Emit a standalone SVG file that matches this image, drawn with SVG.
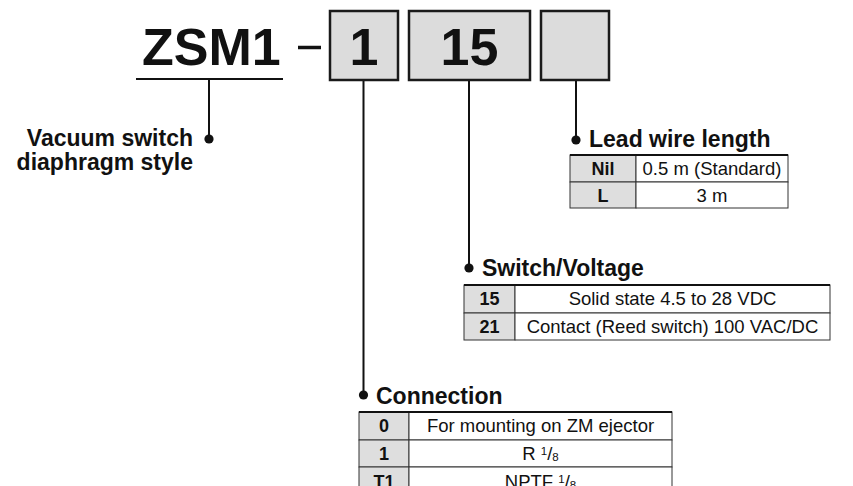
<svg xmlns="http://www.w3.org/2000/svg" width="853" height="486" viewBox="0 0 853 486">
<style>
text{font-family:"Liberation Sans",Arial,Helvetica,sans-serif;fill:#111}
.big{font-size:52px;font-weight:bold}
.lbl{font-size:23px;font-weight:bold}
.hd{font-size:18px;font-weight:bold;text-anchor:middle}
.cell{font-size:18.5px;text-anchor:middle}
.box{fill:#dcdcdc;stroke:#1a1a1a;stroke-width:2.5}
.ln{stroke:#111;stroke-width:2;fill:none}
.dot{fill:#111}
.hcell{fill:#dedede;stroke:#333;stroke-width:1}
.dcell{fill:#fff;stroke:#333;stroke-width:1}
.top{stroke:#111;stroke-width:2}
</style>

<g id="model">
<text class="big" x="142" y="65">ZSM1</text>
<line class="ln" x1="136" y1="79" x2="283" y2="79"/>
<line x1="298" y1="47.5" x2="321" y2="47.5" stroke="#111" stroke-width="3.5"/>
</g>

<g id="box-connection">
<rect class="box" x="330" y="11" width="68" height="69"/>
<text class="big" x="364" y="65" text-anchor="middle">1</text>
</g>
<g id="box-switch">
<rect class="box" x="409" y="11" width="121" height="69"/>
<text class="big" x="469.5" y="65" text-anchor="middle">15</text>
</g>
<g id="box-lead">
<rect class="box" x="541" y="11" width="68" height="69"/>
</g>

<g id="connectors">
<line class="ln" x1="209" y1="80" x2="209" y2="139"/>
<circle class="dot" cx="209" cy="139" r="4.6"/>
<line class="ln" x1="363.5" y1="81" x2="363.5" y2="395"/>
<circle class="dot" cx="363.5" cy="395" r="4.6"/>
<line class="ln" x1="469" y1="81" x2="469" y2="268"/>
<circle class="dot" cx="469" cy="268" r="4.6"/>
<line class="ln" x1="576" y1="81" x2="576" y2="140"/>
<circle class="dot" cx="576" cy="140" r="4.6"/>
</g>

<g id="vacuum-switch">
<text class="lbl" x="193" y="146" text-anchor="end">Vacuum switch</text>
<text class="lbl" x="193" y="170" text-anchor="end">diaphragm style</text>
</g>

<g id="lead-wire">
<text class="lbl" x="589" y="147">Lead wire length</text>
<rect class="hcell" x="570" y="155" width="66" height="27"/>
<rect class="dcell" x="636" y="155" width="152" height="27"/>
<rect class="hcell" x="570" y="182" width="66" height="26"/>
<rect class="dcell" x="636" y="182" width="152" height="26"/>
<line class="top" x1="570" y1="155" x2="788" y2="155"/>
<text class="hd" x="603" y="175">Nil</text>
<text class="cell" x="712" y="175">0.5 m (Standard)</text>
<text class="hd" x="603" y="202">L</text>
<text class="cell" x="712" y="202">3 m</text>
</g>

<g id="switch-voltage">
<text class="lbl" x="482" y="276">Switch/Voltage</text>
<rect class="hcell" x="464" y="285" width="51" height="28"/>
<rect class="dcell" x="515" y="285" width="315" height="28"/>
<rect class="hcell" x="464" y="313" width="51" height="27"/>
<rect class="dcell" x="515" y="313" width="315" height="27"/>
<line class="top" x1="464" y1="285" x2="830" y2="285"/>
<text class="hd" x="489.5" y="305">15</text>
<text class="cell" x="672.5" y="305">Solid state 4.5 to 28 VDC</text>
<text class="hd" x="489.5" y="333">21</text>
<text class="cell" x="672.5" y="333">Contact (Reed switch) 100 VAC/DC</text>
</g>

<g id="connection">
<text class="lbl" x="376" y="404">Connection</text>
<rect class="hcell" x="359" y="412" width="50" height="28"/>
<rect class="dcell" x="409" y="412" width="263" height="28"/>
<rect class="hcell" x="359" y="440" width="50" height="27"/>
<rect class="dcell" x="409" y="440" width="263" height="27"/>
<rect class="hcell" x="359" y="467" width="50" height="27"/>
<rect class="dcell" x="409" y="467" width="263" height="27"/>
<line class="top" x1="359" y1="412" x2="672" y2="412"/>
<text class="hd" x="384" y="432">0</text>
<text class="cell" x="540.5" y="432">For mounting on ZM ejector</text>
<text class="hd" x="384" y="460">1</text>
<text class="cell" x="540.5" y="460">R <tspan font-size="11.5" dy="-5">1</tspan><tspan dy="5">/</tspan><tspan font-size="11.5" dy="1">8</tspan></text>
<text class="hd" x="384" y="488">T1</text>
<text class="cell" x="540.5" y="488">NPTF <tspan font-size="11.5" dy="-5">1</tspan><tspan dy="5">/</tspan><tspan font-size="11.5" dy="1">8</tspan></text>
</g>
</svg>
